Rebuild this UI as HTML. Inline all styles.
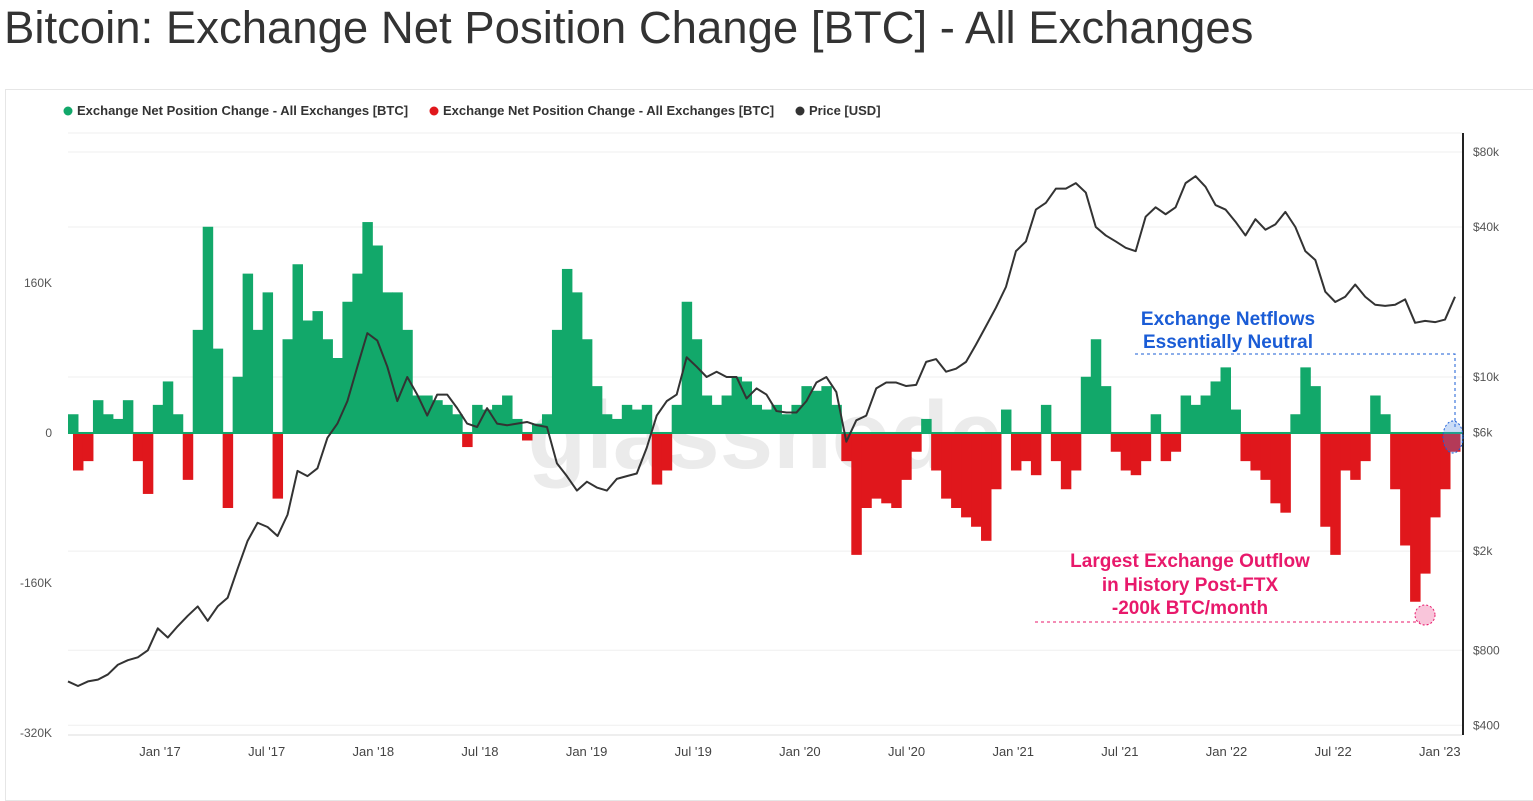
<!DOCTYPE html>
<html><head><meta charset="utf-8">
<style>
body{margin:0;background:#fff;width:1533px;height:790px;overflow:hidden;font-family:"Liberation Sans",sans-serif;}
#title{position:absolute;left:4px;top:2px;font-size:45.5px;color:#333;white-space:nowrap;}
#panel{position:absolute;left:5px;top:89px;width:1540px;height:710px;border:1px solid #e6e6e6;}
svg{position:absolute;left:0;top:0;}
</style></head><body>
<div id="title">Bitcoin: Exchange Net Position Change [BTC] - All Exchanges</div>
<div id="panel"></div>
<svg id="chart" width="1533" height="790" font-family="Liberation Sans, sans-serif"></svg>
<script>
const netflowK=[20,-40,-30,35,20,15,35,-30,-65,30,55,20,-50,110,220,90,-80,60,170,110,150,-70,100,180,120,130,100,80,140,170,225,200,150,150,110,40,40,35,30,20,-15,30,25,30,40,15,-8,10,20,110,175,150,100,50,20,15,30,25,30,-55,-40,30,140,100,40,30,40,60,55,30,25,30,20,30,50,45,50,30,-30,-130,-80,-70,-75,-80,-50,-20,15,-40,-70,-80,-90,-100,-115,-60,25,-40,-30,-45,30,-30,-60,-40,60,100,50,-20,-40,-45,-30,20,-30,-20,40,30,40,55,70,25,-30,-40,-50,-75,-85,20,70,50,-100,-130,-40,-50,-30,40,20,-60,-120,-180,-150,-90,-60,-20];
const priceUSD=[600,575,600,610,640,700,730,750,800,980,900,1000,1100,1200,1050,1200,1300,1700,2200,2600,2500,2300,2800,4200,4000,4300,5700,6500,8000,11000,15000,14000,11000,8000,10000,8500,7000,8500,8500,7500,6500,6300,7500,6500,6400,6500,6600,6400,6300,4500,4000,3500,3800,3600,3500,3900,4000,4100,5200,7000,8000,8500,12000,11000,10000,10500,10000,10000,8200,9000,8500,7300,7200,7200,8000,9500,10000,8700,5500,6700,7000,9000,9500,9500,9200,9300,11500,11800,10500,10800,11500,13500,16000,19000,23000,32000,35000,47000,50000,57000,57000,60000,55000,40000,37000,35000,33000,32000,44000,48000,45000,48000,60000,64000,58000,49000,47000,42000,37000,43000,39000,41000,46000,40000,32000,29500,22000,20000,21000,23500,21000,19500,19300,19500,20500,16500,16800,16600,17000,21000];
const leftTicks=["160K","0","-160K","-320K"];
const leftTickVals=[160,0,-160,-320];
const rightTicks=["$80k","$40k","$10k","$6k","$2k","$800","$400"];
const rightTickVals=[80000,40000,10000,6000,2000,800,400];
const xTicks=["Jan '17","Jul '17","Jan '18","Jul '18","Jan '19","Jul '19","Jan '20","Jul '20","Jan '21","Jul '21","Jan '22","Jul '22","Jan '23"];
const xTickYears=[2017,2017.5,2018,2018.5,2019,2019.5,2020,2020.5,2021,2021.5,2022,2022.5,2023];

const svg=document.getElementById('chart');
const NS='http://www.w3.org/2000/svg';
function mk(t,a){const e=document.createElementNS(NS,t);for(const k in a)e.setAttribute(k,a[k]);svg.appendChild(e);return e;}
const X0=68,STEP=(1455-68)/(netflowK.length-1);
const xi=i=>X0+i*STEP;
const yL=v=>433-v*150/160;
const yR=p=>152+75*Math.log2(80000/p);
const xT=t=>160+(t-2017)*213.3;

[133].concat(rightTickVals.map(yR)).forEach(y=>{const g=mk('line',{x1:68,x2:1462,y1:y,y2:y,stroke:'#efefef','stroke-width':1});

});

const wm=mk('text',{x:765,y:468,'font-size':96,fill:'#ebebeb','text-anchor':'middle','font-weight':'bold'});
wm.textContent='glassnode';



netflowK.forEach((v,i)=>{const x=xi(i)-STEP/2;const y0=yL(0),y1=yL(v);
const r=mk('rect',{x:Math.max(68,x),y:Math.min(y0,y1),width:STEP+0.5,height:Math.abs(y1-y0),fill:v>=0?'#12a86a':'#e0171c'});

});
const zl=mk('line',{x1:68,x2:1462,y1:yL(0),y2:yL(0),stroke:'#12a86a','stroke-width':2});



const pl=mk('polyline',{points:priceUSD.map((p,i)=>xi(i)+','+yR(p)).join(' '),fill:'none',stroke:'#333','stroke-width':2,'stroke-linejoin':'round'});



const ra=mk('line',{x1:1463,x2:1463,y1:133,y2:735,stroke:'#222','stroke-width':2});


const ba=mk('line',{x1:68,x2:1462,y1:735,y2:735,stroke:'#ddd','stroke-width':1});


leftTicks.forEach((t,i)=>{const e=mk('text',{x:52,y:yL(leftTickVals[i])+4,'font-size':12,fill:'#555','text-anchor':'end'});e.textContent=t;

});
rightTicks.forEach((t,i)=>{const e=mk('text',{x:1473,y:yR(rightTickVals[i])+4,'font-size':12,fill:'#555'});e.textContent=t;

});
xTicks.forEach((t,i)=>{const e=mk('text',{x:xT(xTickYears[i]),y:756,'font-size':13,fill:'#444','text-anchor':'middle'});e.textContent=t;

});

[[68,'#12a86a','Exchange Net Position Change - All Exchanges [BTC]'],[434,'#e0171c','Exchange Net Position Change - All Exchanges [BTC]'],[800,'#333','Price [USD]']].forEach(l=>{
const c=mk('circle',{cx:l[0],cy:111,r:4.5,fill:l[1]});


const t=mk('text',{x:l[0]+9,y:115,'font-size':13,fill:'#333','font-weight':'bold'});t.textContent=l[2];

});

const bl=mk('polyline',{points:'1135,354 1455,354 1455,428',fill:'none',stroke:'#1a5cd6','stroke-width':1,'stroke-dasharray':'3,3'});


const be=mk('ellipse',{cx:1453,cy:437,rx:10,ry:16,fill:'rgba(80,140,230,0.3)',stroke:'#1a5cd6','stroke-dasharray':'2,2'});


[['Exchange Netflows',325],['Essentially Neutral',348]].forEach(a=>{const t=mk('text',{x:1228,y:a[1],'font-size':19,'font-weight':'bold',fill:'#1a5cd6','text-anchor':'middle'});t.textContent=a[0];

});
const pk=mk('line',{x1:1035,x2:1420,y1:622,y2:622,stroke:'#e8196b','stroke-width':1,'stroke-dasharray':'3,3'});


const pc=mk('circle',{cx:1425,cy:615,r:10,fill:'rgba(232,25,107,0.25)',stroke:'#e8196b','stroke-dasharray':'2,2'});


[['Largest Exchange Outflow',567],['in History Post-FTX',591],['-200k BTC/month',614]].forEach(a=>{const t=mk('text',{x:1190,y:a[1],'font-size':19,'font-weight':'bold',fill:'#e8196b','text-anchor':'middle'});t.textContent=a[0];

});
</script>
</body></html>
